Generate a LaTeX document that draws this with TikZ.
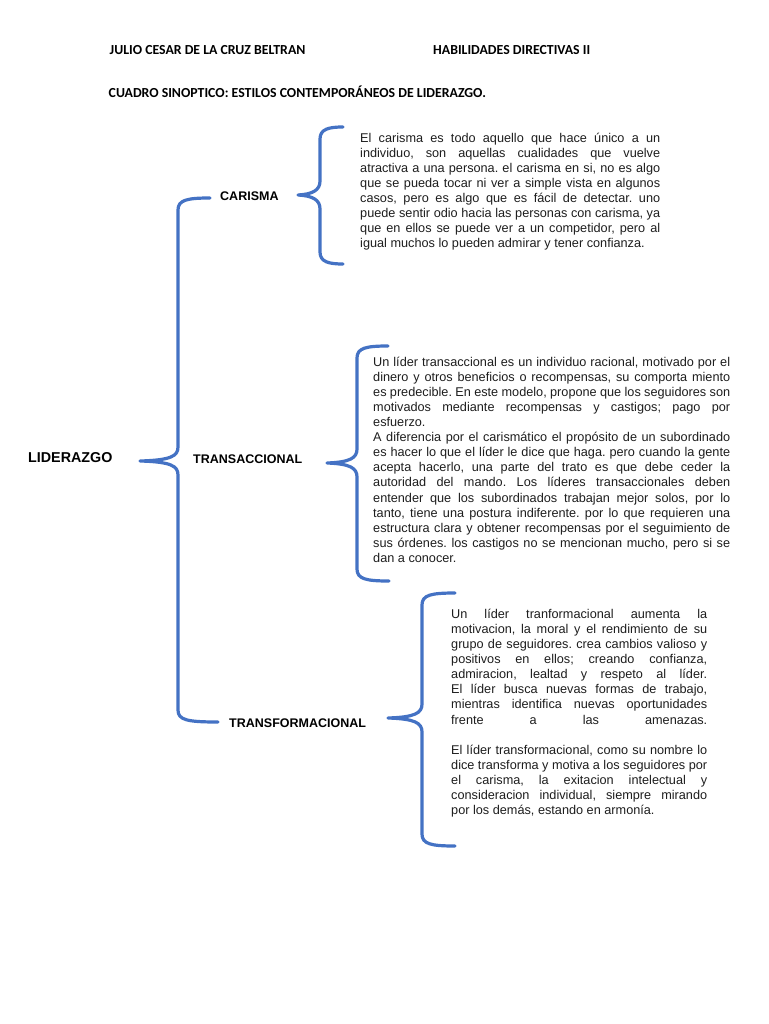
\documentclass[tikz,border=0pt]{standalone}
\usepackage{fontspec}
\setmainfont{Liberation Sans}
\newfontfamily\calibrifont{Carlito}
\definecolor{bracecol}{HTML}{4472C4}
\definecolor{bodytext}{HTML}{1E1E1E}
\newlength\textw
\newcommand\setw[1]{\setlength\textw{#1}\spaceskip=.278em plus .5em minus .12em\relax}
\newcommand\jline[1]{\par\noindent\hbox to \textw{\strut#1}\par}
\newcommand\nline[1]{\par\noindent\hbox{\strut#1}\par}
\newcommand\cbrace[7]{%
  \draw[brace] (#1,#2) .. controls (#3+9,#2) and (#3,#2+2) .. (#3,#2+12)
    -- (#3,#5-14) .. controls (#3,#5-5) and (#3-7,#5-0.8) .. (#4,#5)
    .. controls (#3-7,#5+0.8) and (#3,#5+5) .. (#3,#5+14)
    -- (#3,#7-12) .. controls (#3,#7-2) and (#3+9,#7) .. (#6,#7);}
\begin{document}
\frenchspacing
\begin{tikzpicture}[x=1pt,y=-1pt,
  brace/.style={draw=bracecol,line width=3.2pt,line cap=round,line join=round},
  bodybox/.style={anchor=north west,inner sep=0pt,text=bodytext,
    font=\fontsize{12.7}{15.1}\selectfont},
  catlabel/.style={anchor=base west,inner sep=0pt,text=black,
    font=\fontsize{12.5}{14}\selectfont\bfseries},
  headline/.style={anchor=base west,inner sep=0pt,text=black,
    font=\calibrifont\fontsize{13.8}{16}\selectfont\bfseries}]
\useasboundingbox[fill=white] (0,0) rectangle (768,1024);

% headers
\node[headline] (author) at (109.5,54.5) {JULIO CESAR DE LA CRUZ BELTRAN};
\node[headline] (course) at (433,54.5) {HABILIDADES DIRECTIVAS II};
\node[headline] (title) at (108.5,97.5) {CUADRO SINOPTICO: ESTILOS CONTEMPORÁNEOS DE LIDERAZGO.};

% labels
\node[catlabel,font=\fontsize{14.3}{16}\selectfont\bfseries] (lid) at (28,462) {LIDERAZGO};
\node[catlabel] (car) at (220,200.5) {CARISMA};
\node[catlabel] (trans) at (193,463.5) {TRANSACCIONAL};
\node[catlabel] (transf) at (229,727.5) {TRANSFORMACIONAL};

% braces
\cbrace{210}{198}{178}{140}{461}{218}{722}
\cbrace{343}{127}{320}{298}{195}{343}{264}
\cbrace{388}{346}{357}{327}{463}{389}{581}
\cbrace{455}{593}{422}{388}{718}{455}{846}

% texts
\node[bodybox,text width=300pt] (cartext) at (360,127) {%
\setw{300pt}%
\jline{El carisma es todo aquello que hace único a un}
\jline{individuo, son aquellas cualidades que vuelve}
\jline{atractiva a una persona. el carisma en si, no es algo}
\jline{que se pueda tocar ni ver a simple vista en algunos}
\jline{casos, pero es algo que es fácil de detectar. uno}
\jline{puede sentir odio hacia las personas con carisma, ya}
\jline{que en ellos se puede ver a un competidor, pero al}
\nline{igual muchos lo pueden admirar y tener confianza.}};

\node[bodybox,text width=357pt] (transtext) at (373,350.8) {%
\setw{357pt}%
\jline{Un líder transaccional es un individuo racional, motivado por el}
\jline{dinero y otros beneficios o recompensas, su comporta miento}
\jline{es predecible. En este modelo, propone que los seguidores son}
\jline{motivados mediante recompensas y castigos; pago por}
\nline{esfuerzo.}
\jline{A diferencia por el carismático el propósito de un subordinado}
\jline{es hacer lo que el líder le dice que haga. pero cuando la gente}
\jline{acepta hacerlo, una parte del trato es que debe ceder la}
\jline{autoridad del mando. Los líderes transaccionales deben}
\jline{entender que los subordinados trabajan mejor solos, por lo}
\jline{tanto, tiene una postura indiferente. por lo que requieren una}
\jline{estructura clara y obtener recompensas por el seguimiento de}
\jline{sus órdenes. los castigos no se mencionan mucho, pero si se}
\nline{dan a conocer.}};

\node[bodybox,text width=256pt] (transftext) at (451,603) {%
\setw{256pt}%
\jline{Un líder tranformacional aumenta la}
\jline{motivacion, la moral y el rendimiento de su}
\jline{grupo de seguidores. crea cambios valioso y}
\jline{positivos en ellos; creando confianza,}
\jline{admiracion, lealtad y respeto al líder.}
\jline{El líder busca nuevas formas de trabajo,}
\jline{mientras identifica nuevas oportunidades}
\jline{frente a las amenazas.}
\nline{}
\jline{El líder transformacional, como su nombre lo}
\jline{dice transforma y motiva a los seguidores por}
\jline{el carisma, la exitacion intelectual y}
\jline{consideracion individual, siempre mirando}
\nline{por los demás, estando en armonía.}};
\end{tikzpicture}
\end{document}
